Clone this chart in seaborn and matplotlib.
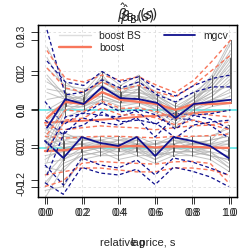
import numpy as np
import pandas as pd
import matplotlib
matplotlib.use("Agg")
import matplotlib.pyplot as plt
from matplotlib.lines import Line2D
import seaborn as sns

# ---------------- data ----------------
grid_x = [0.0, 0.1, 0.2, 0.3, 0.4, 0.5, 0.6, 0.7, 0.8, 0.9, 1.0]
x_ticks = [0.0, 0.2, 0.4, 0.6, 0.8, 1.0]
x_tick_labels = ["0.0", "0.2", "0.4", "0.6", "0.8", "1.0"]
yticks_a = [-0.1, 0.0, 0.1, 0.2, 0.3]
yticks_b = [-0.2, -0.1, 0.0, 0.1, 0.2]

# panel A (effect around 0, lower part of picture)
boot_a = [
    [0.05, 0.02, 0.03, 0.01, 0.01, 0.02, -0.01, 0.02, 0.02, 0.01, 0.04],
    [-0.04, -0.03, 0.00, 0.00, -0.01, 0.00, -0.02, 0.00, 0.00, -0.01, -0.02],
    [0.02, 0.04, 0.02, 0.03, 0.02, 0.03, 0.01, 0.03, 0.01, 0.02, 0.06],
    [-0.11, -0.10, -0.03, -0.02, -0.02, -0.01, -0.03, -0.01, -0.01, -0.02, -0.05],
    [0.00, 0.01, 0.01, 0.02, 0.00, 0.01, 0.00, 0.01, 0.02, 0.00, 0.02],
    [-0.07, -0.02, -0.01, 0.00, 0.01, 0.00, -0.01, -0.02, 0.00, -0.02, -0.03],
    [0.06, 0.03, 0.02, 0.02, 0.03, 0.01, 0.02, 0.01, 0.03, 0.03, 0.05],
    [-0.13, -0.05, -0.02, -0.01, -0.03, -0.02, -0.04, -0.02, -0.02, -0.03, -0.06],
    [0.03, 0.00, 0.01, 0.01, 0.00, 0.02, 0.00, 0.00, 0.01, 0.01, 0.01],
    [-0.02, -0.01, 0.00, 0.01, 0.00, -0.01, -0.01, 0.01, -0.01, 0.00, 0.00],
    [0.01, 0.02, 0.01, 0.00, 0.02, 0.01, 0.01, 0.00, 0.01, 0.02, 0.03],
    [-0.09, -0.04, -0.02, -0.01, -0.01, -0.01, -0.02, -0.01, -0.02, -0.01, -0.04],
    [0.04, 0.01, 0.02, 0.02, 0.01, 0.00, 0.01, 0.02, 0.01, 0.02, 0.03],
    [-0.05, -0.06, -0.01, -0.02, 0.00, -0.02, -0.02, -0.01, -0.01, -0.02, -0.03],
    [0.00, 0.03, 0.03, 0.01, 0.02, 0.02, 0.00, 0.01, 0.02, 0.01, 0.02],
    [-0.10, -0.03, -0.01, 0.00, -0.02, 0.00, -0.03, 0.00, -0.01, -0.01, -0.05],
    [0.02, -0.01, 0.00, 0.02, 0.01, 0.01, 0.01, 0.02, 0.00, 0.00, 0.01],
    [-0.03, 0.00, 0.01, -0.01, 0.00, 0.01, -0.01, 0.00, 0.01, 0.01, -0.01],
]
mgcv_a = [0.018, -0.026, 0.028, 0.013, 0.005, 0.028, -0.021, 0.028, 0.018, 0.005, -0.026]
mgcv_a_hi = [0.072, 0.034, 0.078, 0.067, 0.059, 0.078, 0.028, 0.078, 0.072, 0.059, 0.026]
mgcv_a_lo = [-0.044, -0.096, -0.026, -0.044, -0.052, -0.031, -0.070, -0.026, -0.036, -0.052, -0.070]
mgcv_a_hi2 = [0.120, 0.060, 0.090, 0.085, 0.080, 0.095, 0.060, 0.090, 0.085, 0.075, 0.050]
mgcv_a_lo2 = [-0.090, -0.120, -0.050, -0.065, -0.070, -0.055, -0.095, -0.050, -0.060, -0.075, -0.100]
boost_a = [-0.008, -0.006, 0.000, 0.004, 0.003, 0.005, 0.001, 0.004, 0.003, 0.001, 0.000]
boost_a2 = [0.065, 0.068, 0.070, 0.073, 0.076, 0.080, 0.083, 0.086, 0.090, 0.094, 0.098]
boost_a_hi = [0.059, 0.047, 0.052, 0.057, 0.054, 0.052, 0.047, 0.052, 0.057, 0.059, 0.067]
boost_a_lo = [-0.070, -0.062, -0.052, -0.052, -0.057, -0.062, -0.062, -0.052, -0.052, -0.057, -0.070]
boost_a_hi2 = [0.030, 0.025, 0.028, 0.030, 0.030, 0.028, 0.026, 0.030, 0.030, 0.032, 0.036]
boost_a_lo2 = [-0.100, -0.085, -0.040, -0.035, -0.038, -0.040, -0.042, -0.036, -0.035, -0.040, -0.090]

# panel B (upper part of picture)
boot_b = [
    [0.10, 0.04, 0.03, 0.06, 0.04, 0.05, 0.03, 0.00, 0.03, 0.08, 0.15],
    [-0.08, 0.02, 0.02, 0.05, 0.03, 0.03, 0.02, -0.01, 0.02, 0.05, 0.10],
    [0.15, 0.06, 0.05, 0.11, 0.07, 0.10, 0.04, 0.01, 0.04, 0.10, 0.20],
    [-0.15, -0.02, 0.00, 0.03, 0.01, 0.02, 0.01, -0.03, 0.01, 0.03, 0.06],
    [0.05, 0.03, 0.04, 0.08, 0.05, 0.06, 0.03, -0.02, 0.02, 0.06, 0.12],
    [-0.03, 0.01, 0.01, 0.04, 0.02, 0.02, 0.00, -0.04, 0.00, 0.02, 0.04],
    [0.08, 0.05, 0.03, 0.09, 0.06, 0.08, 0.05, 0.02, 0.05, 0.09, 0.17],
    [-0.12, 0.00, 0.02, 0.02, 0.00, 0.01, -0.01, -0.05, -0.01, 0.01, 0.02],
    [0.12, 0.07, 0.06, 0.07, 0.04, 0.04, 0.02, -0.01, 0.03, 0.07, 0.13],
    [0.00, 0.03, 0.02, 0.05, 0.03, 0.03, 0.02, -0.02, 0.02, 0.04, 0.08],
    [-0.05, 0.02, 0.03, 0.10, 0.04, 0.09, 0.03, -0.03, 0.01, 0.04, 0.09],
    [0.03, 0.04, 0.02, 0.06, 0.05, 0.05, 0.04, 0.00, 0.04, 0.06, 0.11],
    [0.18, 0.08, 0.04, 0.08, 0.06, 0.07, 0.03, 0.00, 0.03, 0.09, 0.19],
    [-0.10, 0.01, 0.03, 0.04, 0.02, 0.04, 0.01, -0.02, 0.02, 0.05, 0.07],
    [0.06, 0.05, 0.01, 0.07, 0.03, 0.06, 0.02, -0.01, 0.03, 0.07, 0.14],
    [-0.01, 0.02, 0.04, 0.09, 0.05, 0.07, 0.04, 0.01, 0.01, 0.03, 0.05],
    [0.09, 0.03, 0.02, 0.05, 0.04, 0.04, 0.03, -0.02, 0.02, 0.08, 0.16],
    [-0.06, 0.00, 0.01, 0.03, 0.02, 0.03, 0.00, -0.03, 0.00, 0.03, 0.03],
]
mgcv_b = [-0.051, 0.031, 0.017, 0.066, 0.034, 0.031, 0.020, -0.023, 0.017, 0.023, 0.029]
mgcv_b_hi = [0.229, 0.043, 0.051, 0.086, 0.063, 0.080, 0.043, 0.023, 0.051, 0.066, 0.066]
mgcv_b_lo = [-0.186, -0.057, -0.043, -0.006, -0.034, -0.029, -0.040, -0.080, -0.043, -0.034, -0.029]
mgcv_b_hi2 = [0.140, 0.080, 0.070, 0.110, 0.080, 0.095, 0.060, 0.040, 0.070, 0.090, 0.100]
mgcv_b_lo2 = [-0.120, -0.020, -0.010, 0.020, -0.005, 0.000, -0.015, -0.055, -0.015, -0.010, 0.000]
boost_b = [-0.023, 0.023, 0.017, 0.051, 0.029, 0.023, 0.017, 0.000, 0.017, 0.017, 0.020]
boost_b_hi = [0.120, 0.063, 0.051, 0.080, 0.057, 0.071, 0.051, 0.037, 0.071, 0.114, 0.157]
boost_b_lo = [-0.114, -0.029, -0.023, 0.006, -0.014, -0.014, -0.023, -0.043, -0.029, -0.043, -0.057]
boost_b_hi2 = [0.170, 0.090, 0.080, 0.100, 0.085, 0.095, 0.070, 0.050, 0.085, 0.140, 0.200]
boost_b_lo2 = [-0.070, 0.000, -0.005, 0.025, 0.005, 0.005, -0.005, -0.025, -0.010, -0.015, -0.020]

# ---------------- style ----------------
sns.set_style("white")
plt.rcParams["font.family"] = ["Liberation Sans", "DejaVu Sans"]
plt.rcParams["mathtext.fontset"] = "dejavusans"

GRAY = "#b0b0b0"
RED = "#f8775c"
NAVY = "#10108e"
CYAN = "#55e6e6"

fig = plt.figure(figsize=(2.49, 2.49), dpi=100)
rect = [38 / 249, (249 - 197) / 249, 199 / 249, 172 / 249]
ax1 = fig.add_axes(rect)
ax2 = fig.add_axes(rect)
ax2.patch.set_visible(False)

xl = (-0.038, 1.046)
shift = 2 / 183.5


def draw_panel(ax, boot, mg, mg_cis, bo, bo_cis, extra=None):
    ax.axhline(0, color=CYAN, lw=1.1, zorder=1)
    df = pd.DataFrame(
        [(i, x, v) for i, row in enumerate(boot) for x, v in zip(grid_x, row)],
        columns=["run", "x", "y"],
    )
    sns.lineplot(data=df, x="x", y="y", units="run", estimator=None,
                 color=GRAY, lw=0.7, alpha=0.75, ax=ax, zorder=2)
    sns.boxplot(data=df[df["x"] > 0.05], x="x", y="y", native_scale=True, width=0.032,
                color="#8a8a8a", linecolor="#4a4a4a", linewidth=0.6,
                fliersize=3, flierprops=dict(marker="o", markerfacecolor="none",
                                             markeredgecolor="#bbbbbb"),
                ax=ax, zorder=3)
    for vals in bo_cis:
        sns.lineplot(x=grid_x, y=vals, color=RED, lw=1.0, ls=(0, (3, 2)), ax=ax, zorder=4)
    sns.lineplot(x=grid_x, y=bo, color=RED, lw=1.7, ax=ax, zorder=5)
    if extra is not None:
        sns.lineplot(x=grid_x, y=extra, color=RED, lw=1.4, ax=ax, zorder=5)
    for vals in mg_cis:
        sns.lineplot(x=grid_x, y=vals, color=NAVY, lw=0.9, ls=(0, (3, 2)), ax=ax, zorder=6)
    sns.lineplot(x=grid_x, y=mg, color=NAVY, lw=1.3, ax=ax, zorder=7)


draw_panel(ax1, boot_a, mgcv_a, (mgcv_a_hi, mgcv_a_lo, mgcv_a_hi2, mgcv_a_lo2),
           boost_a, (boost_a_hi, boost_a_lo, boost_a_hi2, boost_a_lo2), extra=boost_a2)
draw_panel(ax2, boot_b, mgcv_b, (mgcv_b_hi, mgcv_b_lo, mgcv_b_hi2, mgcv_b_lo2),
           boost_b, (boost_b_hi, boost_b_lo, boost_b_hi2, boost_b_lo2))

ax1.set_ylim(-0.127, 0.318)
ax2.set_ylim(-0.249, 0.243)
ax1.set_xlim(*xl)
ax2.set_xlim(xl[0] - shift, xl[1] - shift)

for ax, yt in ((ax1, yticks_a), (ax2, yticks_b)):
    ax.set_xticks(x_ticks)
    ax.set_xticklabels(x_tick_labels)
    ax.set_yticks(yt)
    ax.set_yticklabels([f"{v:.1f}" for v in yt])
    ax.tick_params(axis="both", direction="out", length=5, width=0.7, color="#333333",
                   labelsize=7.5, bottom=True, left=True, pad=3)
    plt.setp(ax.get_yticklabels(), rotation=90, va="center")
    ax.grid(True, color="#dddddd", ls=(0, (3, 3)), lw=0.6)
    for s in ax.spines.values():
        s.set_color("black")
        s.set_linewidth(0.9)
    ax.set_ylabel("")

ax1.set_axisbelow(True)
ax2.grid(False)

ax1.set_xlabel("relative price, s", fontsize=8, labelpad=14)
ax2.set_xlabel("lag", fontsize=8, labelpad=14)

ax1.set_title(r"$\hat{\beta}_{\mathrm{Bu}}(s)$", fontsize=10, fontweight="bold", pad=3.5)
ax2.set_title(r"$\hat{\beta}_{\mathrm{B}}(s)$", fontsize=10, fontweight="bold", pad=2.5)

handles = [Line2D([], [], color="#dddddd", lw=1.0),
           Line2D([], [], color=RED, lw=1.7),
           Line2D([], [], color=NAVY, lw=1.3)]
leg = ax2.legend(handles, ["boost BS", "boost", "mgcv"], ncol=2, frameon=False,
                 fontsize=7.5, loc="upper left", bbox_to_anchor=(0.06, 1.02),
                 handlelength=3.0, columnspacing=2.2, labelspacing=0.2,
                 handletextpad=0.8)
leg.set_zorder(20)

fig.savefig("out.png", dpi=100)
